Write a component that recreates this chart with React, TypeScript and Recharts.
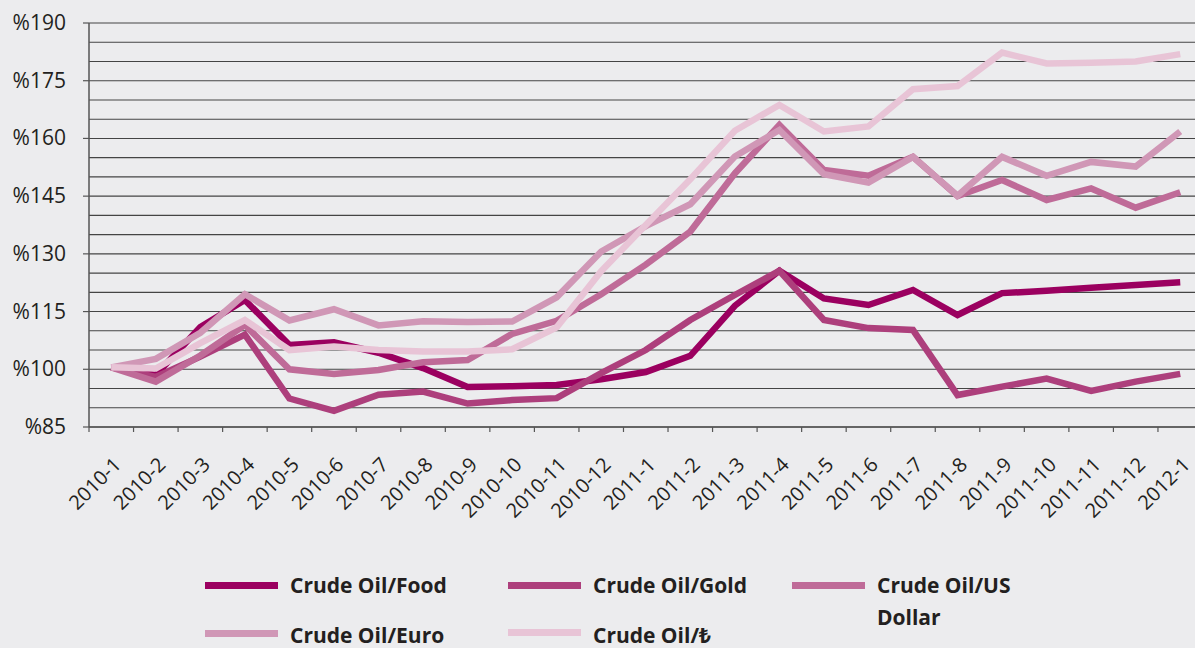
import React from 'react';
import { LineChart, Line, XAxis, YAxis, CartesianGrid } from 'recharts';

const months = [
  '2010-1', '2010-2', '2010-3', '2010-4', '2010-5', '2010-6', '2010-7', '2010-8', '2010-9', '2010-10', '2010-11', '2010-12',
  '2011-1', '2011-2', '2011-3', '2011-4', '2011-5', '2011-6', '2011-7', '2011-8', '2011-9', '2011-10', '2011-11', '2011-12',
  '2012-1',
];

const food = [100.5, 98.5, 111, 118, 106.3, 107, 104.3, 100.3, 95.4, 95.6, 95.9, 97.4, 99.3, 103.5, 116.5, 125.6, 118.4, 116.7, 120.6, 114.1, 119.8, 120.4, 121.2, 121.9, 122.6];
const gold = [100.5, 98, 103.3, 109, 92.4, 89.2, 93.4, 94.2, 91.1, 92, 92.5, 99, 105, 112.8, 119.3, 125.6, 112.8, 110.7, 110.2, 93.3, 95.5, 97.6, 94.4, 96.8, 98.8];
const usd = [100.5, 96.8, 103.6, 111.5, 100, 98.8, 99.8, 101.8, 102.4, 109.2, 112.6, 119.5, 127.2, 135.8, 150.9, 163.5, 151.8, 150.3, 155.2, 145, 149.2, 144, 147, 142, 146];
const euro = [100.5, 102.7, 109.5, 119.5, 112.7, 115.6, 111.4, 112.5, 112.3, 112.4, 118.7, 130.6, 137.2, 142.9, 155.3, 162.2, 150.7, 148.5, 155.2, 145.1, 155.2, 150.3, 153.9, 152.7, 161.8];
const lira = [100.5, 100.2, 106.8, 112.8, 105, 105.9, 105, 104.6, 104.6, 105.2, 110.9, 125.5, 137.5, 149.4, 162, 168.7, 161.8, 163.1, 172.8, 173.6, 182.3, 179.5, 179.7, 180, 181.9];

const yTicks = [85, 90, 95, 100, 105, 110, 115, 120, 125, 130, 135, 140, 145, 150, 155, 160, 165, 170, 175, 180, 185, 190];
const yLabelStep = 15;

const seriesNames = ['Crude Oil/Food', 'Crude Oil/Gold', 'Crude Oil/US Dollar', 'Crude Oil/Euro', 'Crude Oil/\u20BA'];
const seriesKeys = ['food', 'gold', 'usd', 'euro', 'lira'];
const seriesColors = ['#9b0060', '#ad3f7c', '#bf6b98', '#d097b6', '#e8c4d6'];

const data = months.map((m, i) => ({
  idx: i,
  label: m,
  food: food[i],
  gold: gold[i],
  usd: usd[i],
  euro: euro[i],
  lira: lira[i],
}));

const xTicks: number[] = [];
for (let i = 0; i < months.length; i++) {
  xTicks.push(i - 0.5);
  xTicks.push(i);
}
xTicks.push(months.length - 0.5);

const TEXT = '#231f20';
const FONT = '"Open Sans", "Noto Sans", sans-serif';

const XTick = (props: any) => {
  const { x, y, payload } = props;
  const v = payload.value;
  if (Number.isInteger(v)) {
    const ax = x + 11;
    const ay = y + 39;
    return (
      <text
        x={ax}
        y={ay}
        textAnchor="end"
        fontSize={20}
        fontFamily={FONT}
        fill={TEXT}
        transform={`rotate(-45, ${ax}, ${ay})`}
      >
        {months[v]}
      </text>
    );
  }
  return <line x1={x} y1={y} x2={x} y2={y + 5} stroke="#555" strokeWidth={1.2} />;
};

const YTick = (props: any) => {
  const { x, y, payload } = props;
  const v = payload.value;
  if ((v - 85) % yLabelStep !== 0) return <g />;
  return (
    <g>
      <line x1={x - 6} y1={y} x2={x} y2={y} stroke="#555" strokeWidth={1.2} />
      <text x={x - 23} y={y} dy={7} textAnchor="end" fontSize={21} fontFamily={FONT} fill={TEXT}>
        {'%' + v}
      </text>
    </g>
  );
};

// legend placement: sample line centre (sy), text first-line centre (ty), line height (lh)
const legendLayout = [
  { left: 205, sy: 585, ty: 585, lh: 32 },
  { left: 508, sy: 585, ty: 585, lh: 32 },
  { left: 792, sy: 585, ty: 585, lh: 32 },
  { left: 205, sy: 633, ty: 635, lh: 24 },
  { left: 508, sy: 632, ty: 635, lh: 24 },
];

const Legend = () => (
  <>
    {seriesNames.map((name, i) => {
      const L = legendLayout[i];
      return (
        <React.Fragment key={name}>
          <div style={{ position: 'absolute', left: L.left, top: L.sy - 3.5, width: 73, height: 7, background: seriesColors[i] }} />
          <div
            style={{
              position: 'absolute',
              left: L.left + 85,
              top: L.ty - L.lh / 2,
              width: i === 2 ? 150 : 'auto',
              whiteSpace: i === 2 ? 'normal' : 'nowrap',
              fontFamily: FONT,
              fontWeight: 700,
              fontSize: 21,
              lineHeight: `${L.lh}px`,
              color: TEXT,
            }}
          >
            {name}
          </div>
        </React.Fragment>
      );
    })}
  </>
);

export default function App() {
  return (
    <div style={{ position: 'absolute', left: 0, top: 0, width: 1195, height: 648, overflow: 'hidden', background: '#ececee' }}>
      <LineChart width={1215} height={648} data={data} margin={{ top: 23, right: 12.5, bottom: 0, left: 0 }}>
        <CartesianGrid horizontal vertical={false} stroke="#444" strokeWidth={1.1} />
        <XAxis
          dataKey="idx"
          type="number"
          domain={[-0.5, 24.5]}
          ticks={xTicks}
          interval={0}
          allowDataOverflow
          height={221}
          tickSize={0}
          tickMargin={0}
          tickLine={false}
          axisLine={{ stroke: '#555', strokeWidth: 1.5 }}
          tick={<XTick />}
        />
        <YAxis
          type="number"
          domain={[85, 190]}
          ticks={yTicks}
          interval={0}
          allowDataOverflow
          width={89}
          tickSize={0}
          tickMargin={0}
          tickLine={false}
          axisLine={{ stroke: '#555', strokeWidth: 1.5 }}
          tick={<YTick />}
        />
        {seriesKeys.map((k, i) => (
          <Line
            key={k}
            type="linear"
            dataKey={k}
            name={seriesNames[i]}
            stroke={seriesColors[i]}
            strokeWidth={6.5}
            strokeLinejoin="miter"
            strokeLinecap="butt"
            dot={false}
            activeDot={false}
            isAnimationActive={false}
          />
        ))}
      </LineChart>
      <Legend />
    </div>
  );
}
